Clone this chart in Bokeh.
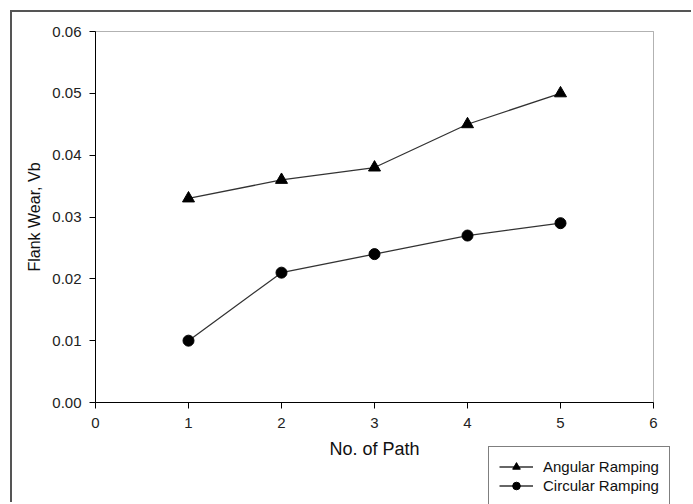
from bokeh.plotting import figure
from bokeh.models import (ColumnDataSource, Legend, LegendItem, FixedTicker, NumeralTickFormatter,
                          Range1d, LinearAxis, BoxAnnotation)
from bokeh.embed import file_html
from bokeh.resources import INLINE

paths = [1, 2, 3, 4, 5]
angular = [0.033, 0.036, 0.038, 0.045, 0.050]
circular = [0.010, 0.021, 0.024, 0.027, 0.029]
x_ticks = [0, 1, 2, 3, 4, 5, 6]
y_ticks = [0.00, 0.01, 0.02, 0.03, 0.04, 0.05, 0.06]

FONT = "Liberation Sans"

# canvas geometry (pixels) and where the plot box sits inside it
W, H = 681, 492
BOX_L, BOX_R, BOX_T, BOX_B = 83, 641, 19, 390
x0, x1 = x_ticks[0], x_ticks[-1]
y0, y1 = y_ticks[0], y_ticks[-1]
sx = (BOX_R - BOX_L) / (x1 - x0)
sy = (BOX_B - BOX_T) / (y1 - y0)
x_range = Range1d(x0 - BOX_L / sx, x1 + (W - BOX_R) / sx)
y_range = Range1d(y0 - (H - BOX_B) / sy, y1 + BOX_T / sy)

p = figure(width=W, height=H, output_backend="svg", toolbar_location=None,
           x_range=x_range, y_range=y_range,
           x_axis_location=None, y_axis_location=None,
           min_border=0, min_border_left=0, min_border_right=0, min_border_top=0, min_border_bottom=0)
p.styles = {"margin-left": "10px", "margin-top": "10px",
            "border-left": "2px solid #555555", "border-top": "2px solid #555555"}
p.xgrid.visible = False
p.ygrid.visible = False
p.outline_line_color = None
p.background_fill_color = "white"
p.border_fill_color = "white"

xaxis = LinearAxis(fixed_location=y0, bounds=(x0, x1), ticker=FixedTicker(ticks=x_ticks),
                   axis_label="No. of Path")
yaxis = LinearAxis(fixed_location=x0, bounds=(y0, y1), ticker=FixedTicker(ticks=y_ticks),
                   formatter=NumeralTickFormatter(format="0.00"), axis_label="Flank Wear, Vb")

for ax in (xaxis, yaxis):
    ax.axis_line_color = "black"
    ax.major_tick_line_color = "black"
    ax.major_tick_out = 6
    ax.major_tick_in = 0
    ax.minor_tick_line_color = None
    ax.major_label_text_font = FONT
    ax.major_label_text_font_size = "15px"
    ax.major_label_text_color = "#222222"
    ax.axis_label_text_font = FONT
    ax.axis_label_text_font_style = "normal"
    ax.axis_label_text_color = "#111111"

xaxis.axis_label_text_font_size = "18px"
yaxis.axis_label_text_font_size = "16px"
xaxis.major_label_standoff = 9
xaxis.axis_label_standoff = 8
yaxis.major_label_standoff = 8
yaxis.axis_label_standoff = 6

p.add_layout(xaxis, "below")
p.add_layout(yaxis, "left")

box = BoxAnnotation(left=x0, right=x1, bottom=y0, top=y1, fill_alpha=0,
                    line_color="black", line_width=1)
p.add_layout(box)

src_a = ColumnDataSource(dict(x=paths, y=angular))
src_c = ColumnDataSource(dict(x=paths, y=circular))

la = p.line("x", "y", source=src_a, line_color="#333333", line_width=1.3)
ma = p.scatter("x", "y", source=src_a, marker="triangle", size=12, fill_color="black", line_color="black")
lc = p.line("x", "y", source=src_c, line_color="#333333", line_width=1.3)
mc = p.scatter("x", "y", source=src_c, marker="circle", size=11, fill_color="black", line_color="black")

legend = Legend(items=[LegendItem(label="Angular Ramping", renderers=[la, ma]),
                       LegendItem(label="Circular Ramping", renderers=[lc, mc])],
                location=(476, -2),
                label_text_font=FONT, label_text_font_size="15px", label_text_color="#111111",
                glyph_width=34, glyph_height=19, label_height=19, label_standoff=10,
                padding=10, spacing=0, margin=0,
                border_line_color="black", border_line_width=1,
                background_fill_color="white", background_fill_alpha=1)
p.add_layout(legend, "center")

open("out.html", "w").write(file_html(p, INLINE))
